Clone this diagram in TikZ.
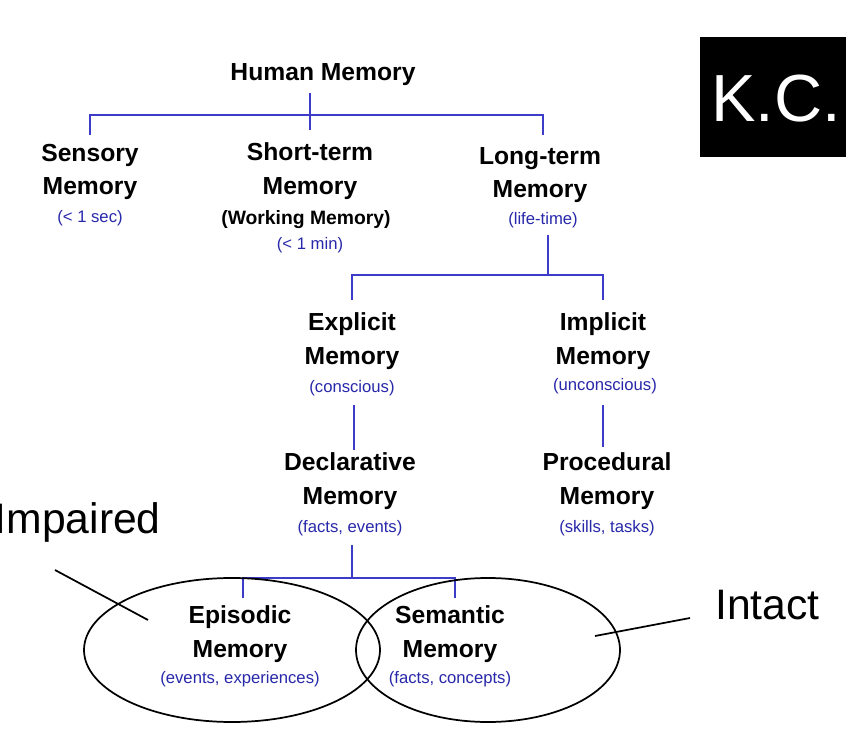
\documentclass[tikz,border=0pt]{standalone}
\usepackage{fontspec}
\setmainfont{Liberation Sans}
\begin{document}
\begin{tikzpicture}[x=0.75pt,y=-0.75pt,
  ttl/.style={font=\bfseries\fontsize{18.5}{25}\selectfont,align=center,inner sep=0},
  sub/.style={font=\fontsize{12.5}{14}\selectfont,text=subblue,inner sep=0},
  ln/.style={draw=lineblue,line width=1pt},
  big/.style={font=\fontsize{32}{36}\selectfont,inner sep=0}]
\definecolor{subblue}{RGB}{40,40,170}
\definecolor{lineblue}{RGB}{60,60,200}
\useasboundingbox (0,0) rectangle (846,748);
\fill[white] (0,0) rectangle (846,748);
% titles
\node[ttl] (hm) at (323,75) {Human Memory};
\node[ttl] (sm) at (90,172) {Sensory\\Memory};
\node[sub] (sms) at (90,218) {(< 1 sec)};
\node[ttl] (st) at (310,171) {Short-term\\Memory};
\node[font=\bfseries\fontsize{14.5}{17}\selectfont,inner sep=0] (wm) at (306,220) {(Working Memory)};
\node[sub] (sts) at (310,245) {(< 1 min)};
\node[ttl] (lt) at (540,175) {Long-term\\Memory};
\node[sub] (lts) at (543,220) {(life-time)};
\node[ttl] (ex) at (352,341) {Explicit\\Memory};
\node[sub] (exs) at (352,388) {(conscious)};
\node[ttl] (im) at (603,341) {Implicit\\Memory};
\node[sub] (ims) at (605,386) {(unconscious)};
\node[ttl] (de) at (350,481) {Declarative\\Memory};
\node[sub] (des) at (350,528) {(facts, events)};
\node[ttl] (pr) at (607,481) {Procedural\\Memory};
\node[sub] (prs) at (607,528) {(skills, tasks)};
\node[ttl] (ep) at (240,634) {Episodic\\Memory};
\node[sub] (eps) at (240,679) {(events, experiences)};
\node[ttl] (se) at (450,634) {Semantic\\Memory};
\node[sub] (ses) at (450,679) {(facts, concepts)};
% tree lines
\coordinate (a0) at (310,93); \coordinate (a1) at (310,115);
\coordinate (aL) at (90,115); \coordinate (aR) at (543,115);
\draw[ln] (a0) -- (a1);
\draw[ln] (90,135) -- (aL) -- (aR) -- (543,135);
\draw[ln] (a1) -- (310,130);
\draw[ln] (548,235) -- (548,275);
\draw[ln] (352,300) -- (352,275) -- (603,275) -- (603,300);
\draw[ln] (354,405) -- (354,450);
\draw[ln] (603,405) -- (603,447);
\draw[ln] (352,545) -- (352,578);
\draw[ln] (243,598) -- (243,578) -- (455,578) -- (455,598);
% ellipses
\draw[line width=1.3pt] (232,650) ellipse [x radius=148, y radius=72];
\draw[line width=1.3pt] (488,650) ellipse [x radius=132, y radius=72];
% labels
\node[big,anchor=east] (imp) at (161,522) {Impaired};
\node[big,anchor=west] (int) at (715,605) {Intact};
\coordinate (ip) at (148,620);
\coordinate (it) at (595,636);
\coordinate (is) at (690,618);
\draw[line width=1.3pt] (55,570) -- (ip);
\draw[line width=1.3pt] (is) -- (it);
% K.C.
\fill[black] (700,37) rectangle (846,157);
\node[font=\fontsize{50}{56}\selectfont,text=white,inner sep=0,anchor=west] (kc) at (711,99) {K.C.};
\end{tikzpicture}
\end{document}
